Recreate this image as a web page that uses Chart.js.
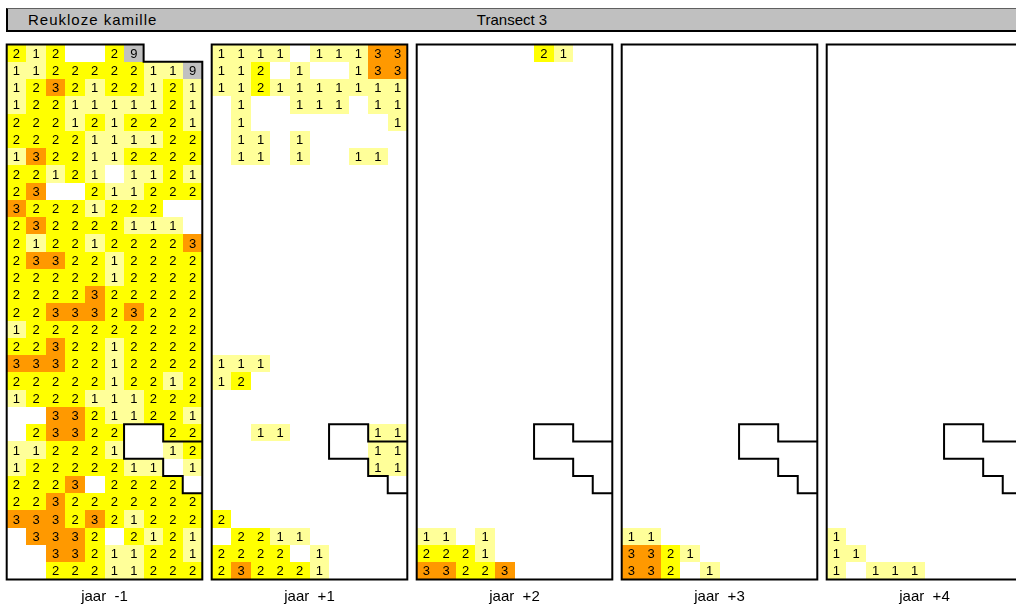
<!DOCTYPE html>
<html>
<head>
<meta charset="utf-8">
<script src="https://cdn.jsdelivr.net/npm/chart.js@4.4.0/dist/chart.umd.min.js"></script>
<style>
html,body{margin:0;padding:0;background:#fff;overflow:hidden;width:1016px;height:605px;}
#hdr{position:absolute;left:6px;top:8px;width:1030px;height:21px;background:#c0c0c0;border-top:1px solid #606060;border-left:2px solid #000;border-bottom:2px solid #000;font-family:"Liberation Sans",Arial,sans-serif;font-size:15px;line-height:21px;color:#000;}
#hdr .l{position:absolute;left:20px;top:0;letter-spacing:1px;}
#hdr .c{position:absolute;left:504px;top:0;transform:translateX(-50%);white-space:nowrap;}
canvas{position:absolute;}
</style>
</head>
<body>
<div id="hdr"><span class="l">Reukloze kamille</span><span class="c">Transect 3</span></div>
<script>
// ---- data: one string per row (top to bottom), one char per column; '.' = no value ----
const panelLabels = ['jaar  -1', 'jaar  +1', 'jaar  +2', 'jaar  +3', 'jaar  +4'];

const jaarMin1 = [
  "212..29...",
  "1122222119",
  "1232122121",
  "1221111121",
  "2221212221",
  "2222111122",
  "1322112222",
  "22121.1121",
  "23..211222",
  "32221222..",
  "232222111.",
  "2122122223",
  "2332212222",
  "2222212222",
  "2222322222",
  "2233323222",
  "1222222222",
  "2232212222",
  "3332212222",
  "2222212212",
  "1222111222",
  "..33211221",
  ".23322..22",
  "112221..12",
  "12222211.1",
  "2223.2222.",
  "2232222222",
  "3332321222",
  ".3332.2121",
  "..33211221",
  "..22211222"
];

const jaarPlus1 = [
  "1111.11133",
  "112.1..133",
  "1121111111",
  ".1..111.11",
  ".1.......1",
  ".11.1.....",
  ".11.1..11.",
  "..........",
  "..........",
  "..........",
  "..........",
  "..........",
  "..........",
  "..........",
  "..........",
  "..........",
  "..........",
  "..........",
  "111.......",
  "12........",
  "..........",
  "..........",
  "..11....11",
  "........11",
  "........11",
  "..........",
  "..........",
  "2.........",
  ".2211.....",
  "2222.1....",
  "232221...."
];

const jaarPlus2 = [
  "......21..",
  "..........", "..........", "..........", "..........", "..........",
  "..........", "..........", "..........", "..........", "..........",
  "..........", "..........", "..........", "..........", "..........",
  "..........", "..........", "..........", "..........", "..........",
  "..........", "..........", "..........", "..........", "..........",
  "..........", "..........",
  "11.1......",
  "2221......",
  "33223....."
];

const jaarPlus3 = [
  "..........",
  "..........", "..........", "..........", "..........", "..........",
  "..........", "..........", "..........", "..........", "..........",
  "..........", "..........", "..........", "..........", "..........",
  "..........", "..........", "..........", "..........", "..........",
  "..........", "..........", "..........", "..........", "..........",
  "..........", "..........",
  "11........",
  "3321......",
  "332.1....."
];

const jaarPlus4 = [
  "..........",
  "..........", "..........", "..........", "..........", "..........",
  "..........", "..........", "..........", "..........", "..........",
  "..........", "..........", "..........", "..........", "..........",
  "..........", "..........", "..........", "..........", "..........",
  "..........", "..........", "..........", "..........", "..........",
  "..........", "..........",
  "1.........",
  "11........",
  "1.111....."
];

const panels = [jaarMin1, jaarPlus1, jaarPlus2, jaarPlus3, jaarPlus4];

// plot outline (grid units): first panel has a notch top-right
const outlineFirst = [[0,0],[7,0],[7,1],[10,1],[10,31],[0,31]];
const outlineOther = [[0,0],[10,0],[10,31],[0,31]];
// excluded zone outline (grid units)
const excludedZone = [[10,23],[8,23],[8,22],[6,22],[6,24],[8,24],[8,25],[9,25],[9,26],[10,26]];

const NCOLS = 10, NROWS = 31;
const valueColors = {'1':'#FFFF99','2':'#FFFF00','3':'#FF9900','9':'#C0C0C0'};
const FONT = '"Liberation Sans", Arial, sans-serif';

const gridPlugin = {
  id: 'gridCells',
  beforeDatasetsDraw(chart) {
    const {ctx, scales: {x, y}} = chart;
    const pts = chart.data.datasets[0].data;
    ctx.save();
    pts.forEach(p => {
      const x0 = Math.round(x.getPixelForValue(p.c)), x1 = Math.round(x.getPixelForValue(p.c + 1));
      const y0 = Math.round(y.getPixelForValue(p.r)), y1 = Math.round(y.getPixelForValue(p.r + 1));
      ctx.fillStyle = valueColors[p.v] || '#fff';
      ctx.fillRect(x0, y0, x1 - x0, y1 - y0);
    });
    ctx.font = '13px ' + FONT;
    ctx.fillStyle = '#000';
    ctx.textAlign = 'center';
    ctx.textBaseline = 'middle';
    pts.forEach(p => {
      ctx.fillText(p.v, x.getPixelForValue(p.c + 0.5), y.getPixelForValue(p.r + 0.5) + 1);
    });
    ctx.restore();
  },
  afterDatasetsDraw(chart) {
    const {ctx, scales: {x, y}} = chart;
    const o = chart.options.plugins.gridCells;
    ctx.save();
    ctx.strokeStyle = '#000';
    ctx.lineWidth = 2;
    ctx.lineJoin = 'miter';
    const path = (pts, close) => {
      ctx.beginPath();
      pts.forEach(([c, r], i) => {
        const px = x.getPixelForValue(c), py = y.getPixelForValue(r);
        if (i === 0) ctx.moveTo(px, py); else ctx.lineTo(px, py);
      });
      if (close) ctx.closePath();
      ctx.stroke();
    };
    path(excludedZone, false);
    path(o.outline, true);
    ctx.restore();
  }
};

panels.forEach((rows, p) => {
  const data = [];
  rows.forEach((row, r) => {
    for (let c = 0; c < NCOLS; c++) {
      const ch = row[c];
      if (ch && ch !== '.') data.push({x: c + 0.5, y: r + 0.5, c: c, r: r, v: ch});
    }
  });
  const cv = document.createElement('canvas');
  cv.width = 200; cv.height = 566;
  cv.style.left = (5 + 205 * p) + 'px';
  cv.style.top = '42px';
  cv.style.width = '200px'; cv.style.height = '566px';
  document.body.appendChild(cv);
  new Chart(cv, {
    type: 'scatter',
    data: { datasets: [{ data: data, pointRadius: 0, pointHoverRadius: 0 }] },
    plugins: [gridPlugin],
    options: {
      responsive: false,
      animation: false,
      devicePixelRatio: 1,
      events: [],
      layout: { padding: { top: 2.5, left: 1.7, right: 2.7, bottom: 0.5 } },
      scales: {
        x: { type: 'linear', min: 0, max: NCOLS, display: false },
        y: { type: 'linear', min: 0, max: NROWS, reverse: true, display: false }
      },
      plugins: {
        legend: { display: false },
        tooltip: { enabled: false },
        title: {
          display: true, position: 'bottom', text: panelLabels[p], color: '#000',
          font: { family: FONT, size: 15, weight: 'normal' },
          padding: { top: 8, bottom: 2 }
        },
        gridCells: { outline: p === 0 ? outlineFirst : outlineOther }
      }
    }
  });
});
</script>
</body>
</html>
